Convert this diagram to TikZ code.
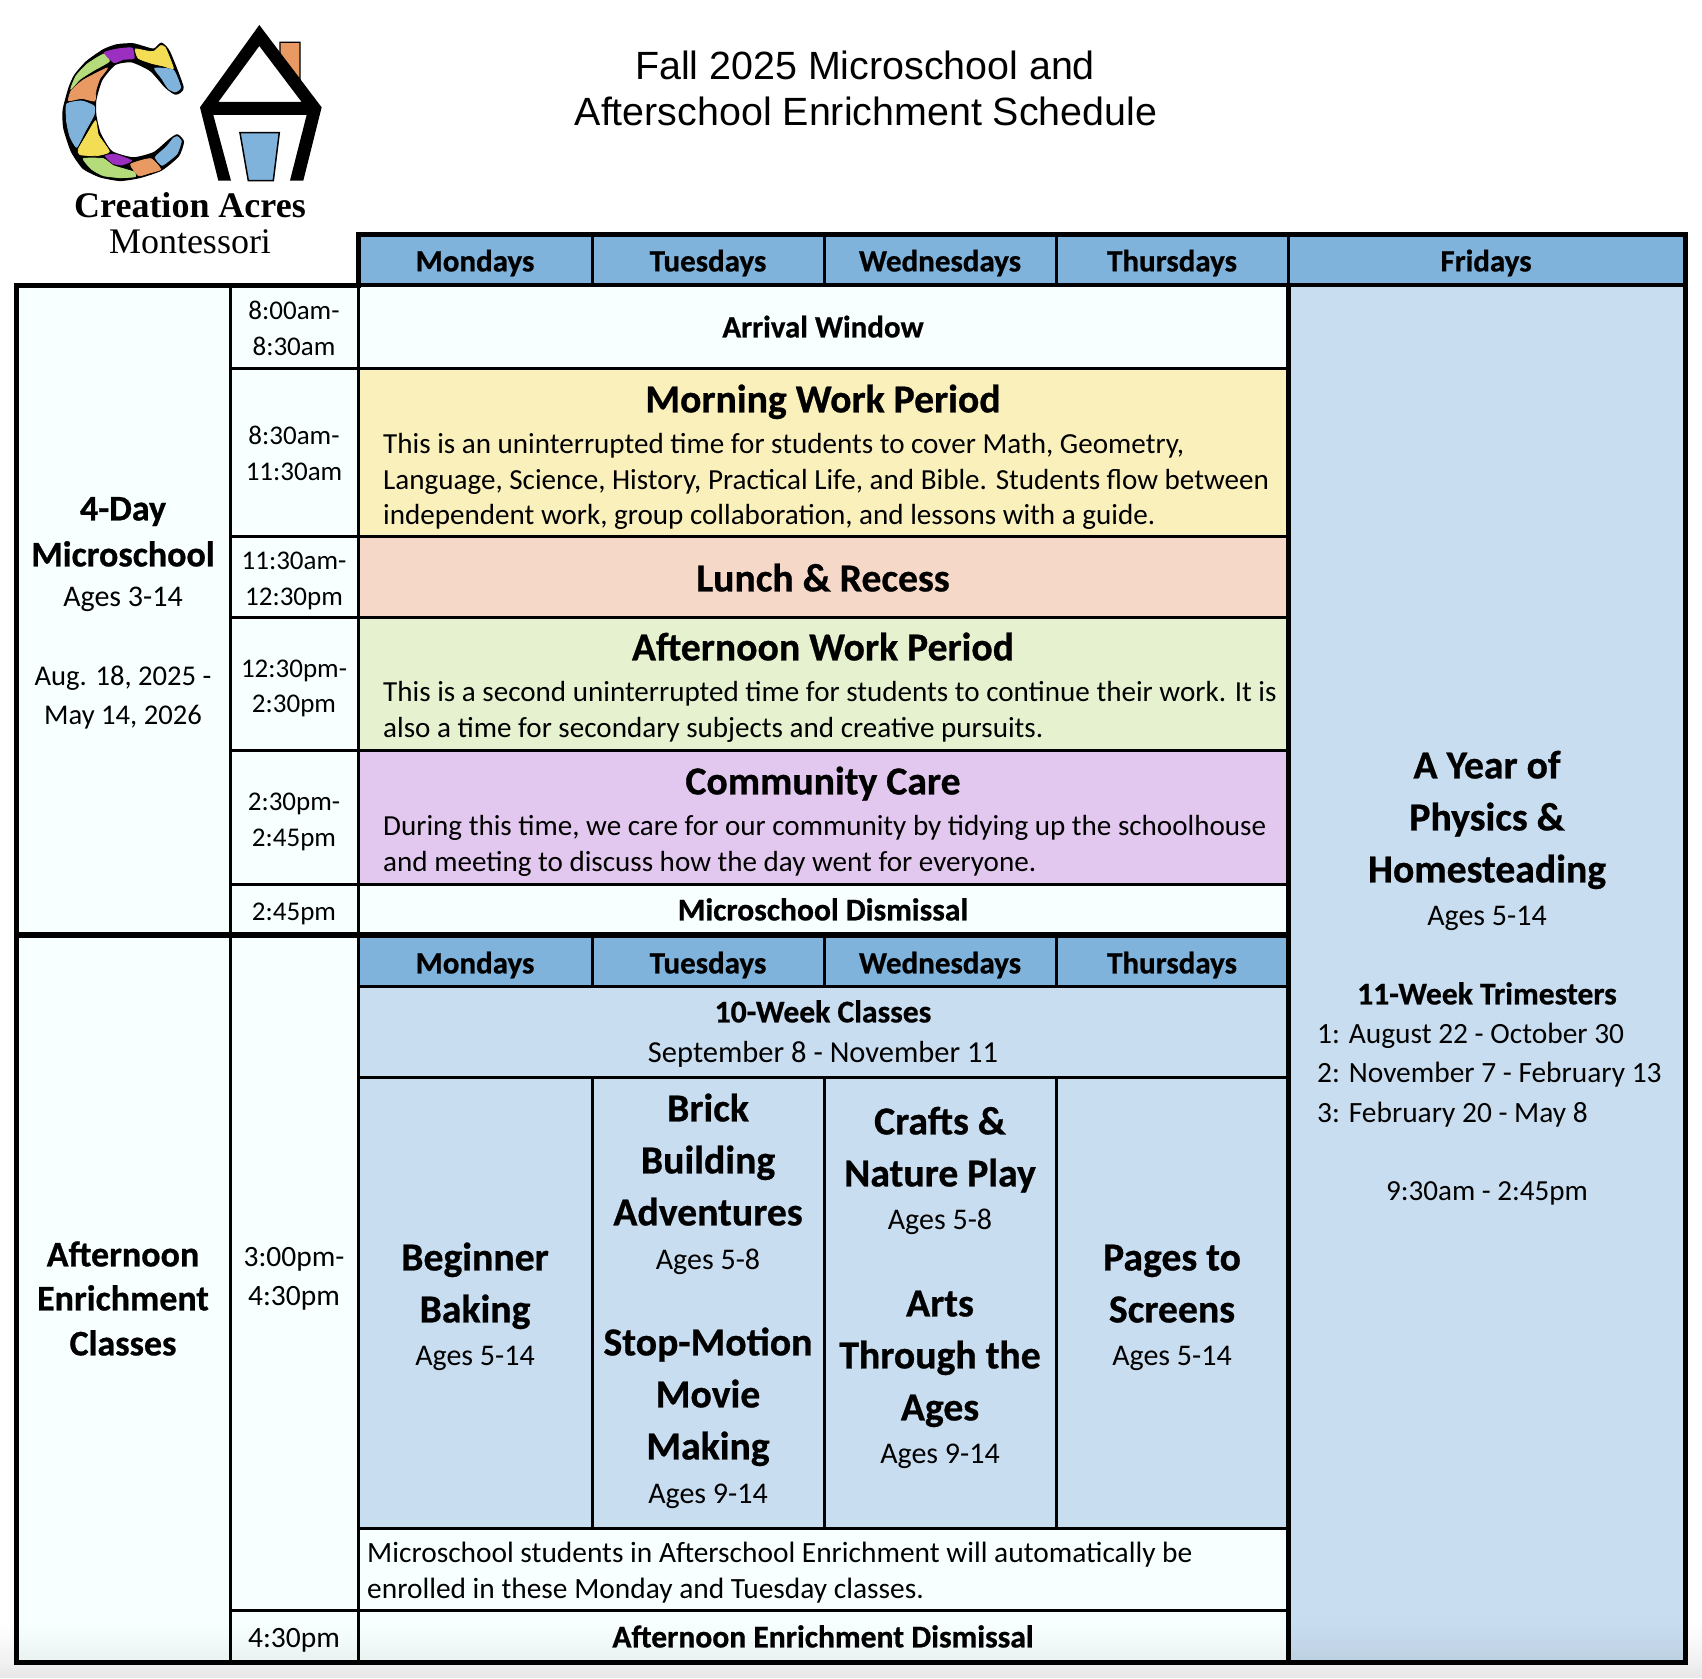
\documentclass[tikz,border=0pt]{standalone}
\usepackage{fontspec}
\setmainfont[BoldFeatures={FakeBold=0.7}]{Carlito}
\newfontfamily\titlefont{Liberation Sans}
\newfontfamily\logofont{Liberation Serif}
\definecolor{hdr}{HTML}{7FB3DC}
\definecolor{lblue}{HTML}{C9DDF0}
\definecolor{icew}{HTML}{F7FFFF}
\definecolor{myel}{HTML}{F9F0BC}
\definecolor{mpeach}{HTML}{F5D8C8}
\definecolor{mgreen}{HTML}{E6F2CF}
\definecolor{mpurp}{HTML}{E2C8EE}
\definecolor{lgreen}{HTML}{B5DC7A}
\definecolor{lpurp}{HTML}{9B2FC0}
\definecolor{lyel}{HTML}{F2DD55}
\definecolor{lorg}{HTML}{E99A62}
\tikzset{
 cellbox/.style={draw=black,line width=3pt,inner sep=0pt,outer sep=0pt,anchor=north west},
 hd/.style={font=\fontsize{31}{31}\selectfont\bfseries},
 dism/.style={font=\fontsize{31.6}{31.6}\selectfont\bfseries},
 tm/.style={font=\fontsize{27}{27}\selectfont},
 bod/.style={font=\fontsize{29.1}{29.1}\selectfont},
 bod2/.style={font=\fontsize{30}{30}\selectfont},
 bod3/.style={font=\fontsize{29.4}{29.4}\selectfont},
 date/.style={font=\fontsize{28.6}{28.6}\selectfont},
 sept/.style={font=\fontsize{30.5}{30.5}\selectfont},
 tm2/.style={font=\fontsize{29.5}{29.5}\selectfont},
 bold/.style={font=\fontsize{36}{36}\selectfont\bfseries},
 big/.style={font=\fontsize{39.7}{39.7}\selectfont\bfseries},
 thickline/.style={line width=5pt,line join=miter,line cap=rect},
}
\newcounter{tc}\newcounter{cc}
\newcommand\tx[4]{\stepcounter{tc}\node[#1,inner sep=0pt,anchor=mid] (t\thetc) at (#2,#3+8) {#4};}
\newcommand\tl[4]{\stepcounter{tc}\node[#1,inner sep=0pt,anchor=mid west] (t\thetc) at (#2,#3+8) {#4};}
\newcommand\cell[5]{\stepcounter{cc}\pgfmathsetmacro\cw{#3-#1}\pgfmathsetmacro\ch{#4-#2}\node[cellbox,fill=#5,minimum width=\cw pt,minimum height=\ch pt] (c\thecc) at (#1,#2) {};}
\newcommand\seg[2]{\filldraw[fill=#1,draw=#1,line width=0.8pt,line join=round] plot[smooth cycle,tension=0.3] coordinates {#2};}
\begin{document}
\begin{tikzpicture}[x=1pt,y=-1pt]
\useasboundingbox (0,0) rectangle (1702,1678);
\fill[white] (0,0) rectangle (1702,1678);
% cells
\cell{16.5}{285}{230}{935}{icew}
\cell{230}{285}{358}{368}{icew}
\cell{230}{368}{358}{536}{icew}
\cell{230}{536}{358}{617}{icew}
\cell{230}{617}{358}{750}{icew}
\cell{230}{750}{358}{884}{icew}
\cell{230}{884}{358}{935}{icew}
\cell{358}{234}{592}{285}{hdr}
\cell{592}{234}{824}{285}{hdr}
\cell{824}{234}{1056}{285}{hdr}
\cell{1056}{234}{1288.5}{285}{hdr}
\cell{1288.5}{234}{1685.5}{285}{hdr}
\cell{358}{285}{1288.5}{368}{icew}
\cell{358}{368}{1288.5}{536}{myel}
\cell{358}{536}{1288.5}{617}{mpeach}
\cell{358}{617}{1288.5}{750}{mgreen}
\cell{358}{750}{1288.5}{884}{mpurp}
\cell{358}{884}{1288.5}{935}{icew}
\cell{1288.5}{285}{1685.5}{1662}{lblue}
\cell{16.5}{935}{230}{1662}{icew}
\cell{230}{935}{358}{1610}{icew}
\cell{230}{1610}{358}{1662}{icew}
\cell{358}{935}{592}{986}{hdr}
\cell{592}{935}{824}{986}{hdr}
\cell{824}{935}{1056}{986}{hdr}
\cell{1056}{935}{1288.5}{986}{hdr}
\cell{358}{986}{1288.5}{1077}{lblue}
\cell{358}{1077}{592}{1528}{lblue}
\cell{592}{1077}{824}{1528}{lblue}
\cell{824}{1077}{1056}{1528}{lblue}
\cell{1056}{1077}{1288.5}{1528}{lblue}
\cell{358}{1528}{1288.5}{1610}{icew}
\cell{358}{1610}{1288.5}{1662}{icew}
% bottom screen shade
\foreach \i in {0,...,29}{
 \pgfmathsetmacro\yy{1618+2*\i}
 \pgfmathsetmacro\oo{0.09*pow((\i+1)/30,1.5)}
 \fill[black,opacity=\oo] (0,\yy) rectangle (1702,\yy+2);
}
% thick frame lines
\draw[thickline] (c8.south west) -- (c8.north west) -- (c12.north east) -- (c19.south east) -- (c20.south west) -- (c1.north west) -- cycle;
\draw[thickline] (c12.south west) -- (c19.south west);
\draw[line width=4pt] (c8.south west) -- (c12.south east);
\draw[line width=6pt] (c20.north west) -- (c18.south east);
% title
\tx{font=\fontsize{39.4}{39.4}\titlefont}{865}{69}{Fall 2025 Microschool and}
\tx{font=\fontsize{39.4}{39.4}\titlefont}{866}{115}{Afterschool Enrichment Schedule}
% logo
\begin{scope}[x=0.3333pt,y=-0.3333pt]
\fill[black,line join=round,draw=black,line width=1.5pt] plot[smooth cycle,tension=0.35] coordinates {
 (484,130) (508,155) (549,262) (527,282) (497,262) (452,212) (395,185) (345,193) (305,240) (287,300) (287,345) (300,400) (335,455) (400,474) (462,458) (510,418) (532,405) (550,425) (535,468) (484,510) (420,532) (360,541) (300,530) (250,505) (215,455) (192,385) (190,330) (208,262) (225,225) (260,185) (310,150) (350,135) (400,132) (460,148)};
\seg{lgreen}{(212,268) (228,228) (262,192) (312,162) (328,184) (280,212) (240,238)}
\seg{lpurp}{(313,158) (352,147) (396,144) (402,175) (370,178) (342,188)}
\seg{lyel}{(406,147) (440,153) (462,154) (482,137) (496,143) (520,205) (490,198) (455,190) (415,175)}
\seg{hdr}{(464,205) (520,210) (542,262) (526,276) (505,266) (485,235)}
\seg{lorg}{(206,302) (214,272) (250,240) (322,204) (300,235) (288,270) (284,303) (245,295)}
\seg{hdr}{(200,312) (245,303) (282,318) (282,345) (255,395) (230,442) (210,410) (200,365)}
\seg{lyel}{(287,362) (295,405) (328,455) (290,467) (240,464) (235,448) (260,405)}
\seg{lgreen}{(250,476) (310,476) (340,497) (402,516) (406,530) (360,533) (310,527) (275,508)}
\seg{lpurp}{(316,468) (345,463) (395,482) (365,495) (338,490)}
\seg{lorg}{(392,493) (452,476) (482,508) (445,520) (416,527)}
\seg{hdr}{(466,472) (500,440) (520,415) (532,410) (544,424) (532,460) (510,480) (486,496)}
% house
\filldraw[fill=lorg,draw=black,line width=1.3pt] (840,127) -- (900,127) -- (900,240) -- (840,165) -- cycle;
\fill[black,even odd rule] (778,75) -- (965,322) -- (910,542) -- (870,542) -- (920,345) -- (640,345) -- (693,542) -- (655,542) -- (600,322) -- cycle (778,138) -- (905,306) -- (655,306) -- cycle;
\filldraw[fill=hdr,draw=black,line width=1.5pt] (720,398) -- (838,398) -- (820,542) -- (745,542) -- cycle;
\end{scope}
\tx{font=\fontsize{36}{36}\logofont\bfseries}{190}{199}{\raisebox{-8pt}{Creation Acres}}
\tx{font=\fontsize{36}{36}\logofont}{190}{235}{\raisebox{-8pt}{Montessori}}
% headers
\tx{hd}{475}{261}{Mondays}\tx{hd}{708}{261}{Tuesdays}\tx{hd}{940}{261}{Wednesdays}\tx{hd}{1172}{261}{Thursdays}\tx{hd}{1486}{261}{Fridays}
\tx{hd}{475}{963}{Mondays}\tx{hd}{708}{963}{Tuesdays}\tx{hd}{940}{963}{Wednesdays}\tx{hd}{1172}{963}{Thursdays}
% times
\tx{tm}{294}{309}{8:00am-}\tx{tm}{294}{345}{8:30am}
\tx{tm}{294}{434}{8:30am-}\tx{tm}{294}{470}{11:30am}
\tx{tm}{294}{559}{11:30am-}\tx{tm}{294}{595}{12:30pm}
\tx{tm}{294}{667}{12:30pm-}\tx{tm}{294}{702}{2:30pm}
\tx{tm}{294}{800}{2:30pm-}\tx{tm}{294}{836}{2:45pm}
\tx{tm}{294}{910}{2:45pm}
\tx{tm2}{294}{1256}{3:00pm-}\tx{tm2}{294}{1295}{4:30pm}
\tx{tm2}{294}{1637}{4:30pm}
% left
\tx{bold}{123}{510}{4-Day}\tx{bold}{123}{556}{Microschool}\tx{bod2}{123}{596}{Ages 3-14}
\tx{date}{123}{675}{Aug. 18, 2025 -}\tx{date}{123}{714}{May 14, 2026}
\tx{bold}{123}{1256}{Afternoon}\tx{bold}{123}{1300}{Enrichment}\tx{bold}{123}{1345}{Classes}
% center
\tx{hd}{823}{327}{Arrival Window}
\tx{big}{823}{402}{Morning Work Period}
\tl{bod}{383}{443}{This is an uninterrupted time for students to cover Math, Geometry,}
\tl{bod}{383}{479}{Language, Science, History, Practical Life, and Bible. Students flow between}
\tl{bod}{383}{514}{independent work, group collaboration, and lessons with a guide.}
\tx{big}{823}{581}{Lunch \& Recess}
\tx{big}{823}{650}{Afternoon Work Period}
\tl{bod}{383}{691}{This is a second uninterrupted time for students to continue their work. It is}
\tl{bod}{383}{727}{also a time for secondary subjects and creative pursuits.}
\tx{big}{823}{784}{Community Care}
\tl{bod}{383}{825}{During this time, we care for our community by tidying up the schoolhouse}
\tl{bod}{383}{861}{and meeting to discuss how the day went for everyone.}
\tx{dism}{823}{910}{Microschool Dismissal}
\tx{dism}{823}{1012}{10-Week Classes}
\tx{sept}{823}{1052}{September 8 - November 11}
% classes
\tx{big}{475}{1260}{Beginner}\tx{big}{475}{1312}{Baking}\tx{bod2}{475}{1355}{Ages 5-14}
\tx{big}{708}{1111}{Brick}\tx{big}{708}{1163}{Building}\tx{big}{708}{1215}{Adventures}\tx{bod2}{708}{1259}{Ages 5-8}
\tx{big}{708}{1345}{Stop-Motion}\tx{big}{708}{1397}{Movie}\tx{big}{708}{1449}{Making}\tx{bod2}{708}{1493}{Ages 9-14}
\tx{big}{940}{1124}{Crafts \&}\tx{big}{940}{1176}{Nature Play}\tx{bod2}{940}{1219}{Ages 5-8}
\tx{big}{940}{1306}{Arts}\tx{big}{940}{1358}{Through the}\tx{big}{940}{1410}{Ages}\tx{bod2}{940}{1453}{Ages 9-14}
\tx{big}{1172}{1260}{Pages to}\tx{big}{1172}{1312}{Screens}\tx{bod2}{1172}{1355}{Ages 5-14}
\tl{bod3}{367}{1552}{Microschool students in Afterschool Enrichment will automatically be}
\tl{bod3}{367}{1588}{enrolled in these Monday and Tuesday classes.}
\tx{dism}{823}{1637}{Afternoon Enrichment Dismissal}
% friday
\tx{big}{1487}{768}{A Year of}\tx{big}{1487}{820}{Physics \&}\tx{big}{1487}{872}{Homesteading}
\tx{bod2}{1487}{915}{Ages 5-14}
\tx{dism}{1487}{994}{11-Week Trimesters}
\tl{bod3}{1317}{1033}{1: August 22 - October 30}
\tl{bod3}{1317}{1072}{2: November 7 - February 13}
\tl{bod3}{1317}{1112}{3: February 20 - May 8}
\tx{bod}{1487}{1190}{9:30am - 2:45pm}
\end{tikzpicture}
\end{document}
